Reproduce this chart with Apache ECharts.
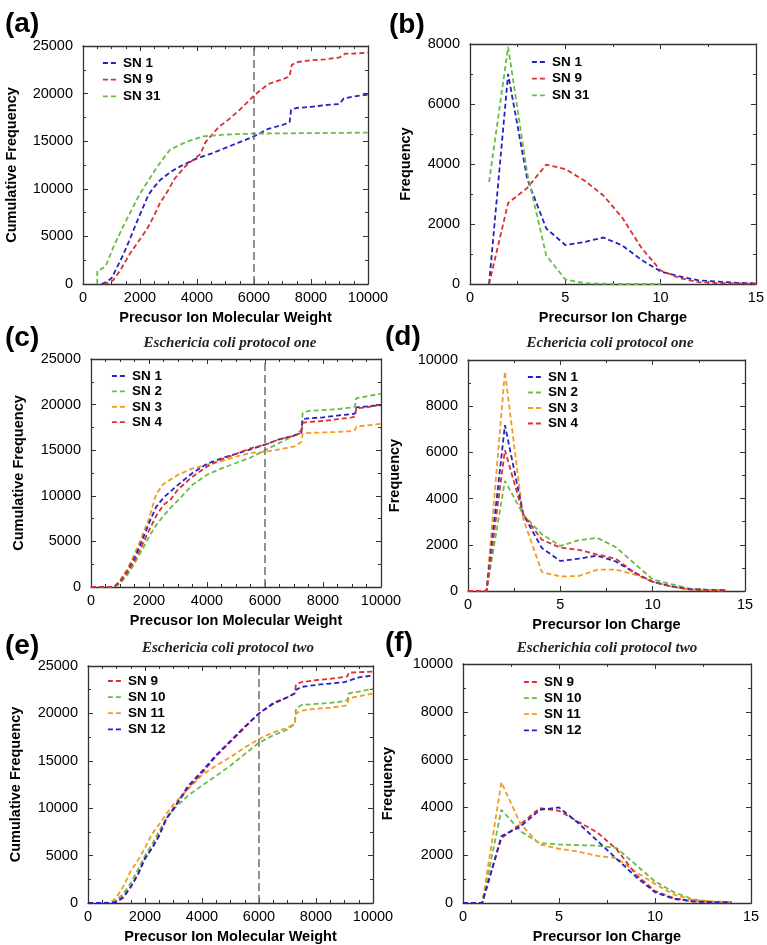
<!DOCTYPE html>
<html><head><meta charset="utf-8">
<script src="https://cdn.jsdelivr.net/npm/echarts@6/dist/echarts.min.js"></script>
<style>html,body{margin:0;padding:0;background:#fff}#c{width:767px;height:945px}</style>
</head><body><div id="c"></div>
<script>
// ---------------- data ----------------
const mwTicks = [0, 2000, 4000, 6000, 8000, 10000];
const cumTicks = [0, 5000, 10000, 15000, 20000, 25000];
const chargeTicks = [0, 5, 10, 15];
const freqTicksB = [0, 2000, 4000, 6000, 8000];
const freqTicksDF = [0, 2000, 4000, 6000, 8000, 10000];
const cutoffMW = 6000;

// (a)
const aSN1x = [650, 800, 1000, 1200, 1400, 1600, 1900, 2100, 2300, 2500, 2700, 3000, 3200, 3500, 4000, 4500, 5000, 5500, 6000, 6500, 7000, 7250, 7300, 7500, 8000, 8500, 9000, 9150, 9500, 10000];
const aSN1y = [0, 200, 600, 1800, 3000, 4400, 6600, 8000, 9400, 10200, 10900, 11600, 12000, 12500, 13200, 13700, 14300, 14900, 15500, 16300, 16700, 17000, 18300, 18500, 18600, 18800, 18900, 19500, 19700, 19900];
const aSN9x = [720, 900, 1060, 1300, 1650, 2000, 2250, 2500, 2700, 3000, 3200, 3600, 4100, 4200, 4300, 4500, 4800, 5000, 5500, 6000, 6500, 7000, 7250, 7320, 7500, 8000, 8500, 9000, 9200, 9500, 10000];
const aSN9y = [0, 150, 400, 1400, 3200, 4700, 5800, 7200, 8500, 9900, 11000, 12400, 13600, 14200, 14900, 15600, 16600, 17000, 18300, 19800, 21000, 21500, 21800, 23000, 23300, 23500, 23600, 23800, 24200, 24200, 24300];
const aSN31x = [500, 500, 600, 800, 1070, 1400, 2000, 2600, 3050, 3600, 4200, 5000, 6000, 8000, 10000];
const aSN31y = [0, 1400, 1500, 1900, 3900, 6000, 9500, 12300, 14100, 14900, 15500, 15700, 15800, 15850, 15900];

// (b)
const bCharge = [1, 2, 3, 4, 5, 6, 7, 8, 9, 10, 11, 12, 13, 14, 15];
const bSN1 = [0, 7000, 3500, 1850, 1300, 1400, 1550, 1280, 800, 420, 250, 120, 80, 40, 20];
const bSN9 = [0, 2700, 3200, 3980, 3830, 3450, 2950, 2200, 1200, 450, 200, 60, 30, 20, 10];
const bSN31 = [3400, 7900, 3700, 950, 150, 30, 10, 0, 0, 0];

// (c)
const cMW = [0, 800, 1000, 1250, 1500, 1750, 2000, 2250, 2500, 2750, 3000, 3500, 4000, 4500, 5000, 5500, 6000, 6500, 7000, 7250, 7300, 7500, 8000, 8500, 9000, 9100, 9150, 9500, 10000];
const cSN1 = [0, 0, 600, 1700, 3200, 5000, 7000, 8800, 9800, 10500, 11200, 12500, 13500, 14100, 14600, 15100, 15600, 16200, 16600, 16900, 18400, 18500, 18600, 18800, 18950, 19000, 19700, 19800, 19950];
const cSN2 = [0, 0, 400, 1300, 2600, 4000, 5500, 6800, 7800, 8700, 9500, 11200, 12300, 13000, 13600, 14200, 15000, 15800, 16600, 17200, 19100, 19300, 19400, 19500, 19700, 19800, 20700, 20900, 21200];
const cSN3 = [0, 0, 700, 2000, 3600, 5500, 7500, 10200, 11300, 11800, 12300, 13000, 13400, 13800, 14300, 14700, 14800, 15100, 15400, 15900, 16800, 16900, 16950, 17000, 17100, 17200, 17600, 17700, 17900];
const cSN4 = [0, 0, 500, 1600, 2900, 4500, 6200, 7800, 9000, 9600, 10700, 12100, 13200, 14000, 14600, 15200, 15600, 16200, 16600, 16900, 18000, 18100, 18200, 18400, 18600, 18700, 19600, 19700, 20000];

// (d)
const dCharge = [0, 1, 2, 3, 4, 5, 6, 7, 8, 9, 10, 11, 12, 13, 14];
const dSN1 = [0, 0, 7180, 3300, 1860, 1300, 1400, 1530, 1280, 800, 400, 200, 80, 50, 30];
const dSN2 = [0, 0, 4770, 3300, 2460, 1950, 2200, 2300, 1900, 1200, 500, 300, 100, 50, 30];
const dSN3 = [0, 0, 9500, 3100, 820, 630, 650, 920, 930, 720, 400, 200, 60, 30, 20];
const dSN4 = [0, 0, 6100, 3300, 2220, 1880, 1780, 1580, 1400, 800, 400, 200, 60, 40, 30];

// (e)
const eMW = [0, 800, 1000, 1250, 1500, 1750, 2000, 2250, 2500, 2750, 3000, 3250, 3500, 4000, 4500, 5000, 5500, 6000, 6500, 7000, 7250, 7300, 7500, 8000, 8500, 9000, 9100, 9150, 9500, 10000];
const eSN9 = [0, 0, 150, 700, 1700, 3000, 4700, 5800, 7200, 8900, 10000, 11000, 12100, 13700, 15500, 17000, 18500, 20000, 21000, 21700, 22100, 23100, 23300, 23500, 23650, 23850, 23900, 24300, 24350, 24400];
const eSN10 = [0, 0, 300, 1000, 2100, 3500, 5000, 6200, 7600, 8900, 9900, 10600, 11300, 12400, 13400, 14500, 15700, 16900, 17700, 18300, 18900, 20500, 20900, 21000, 21100, 21300, 21400, 22100, 22300, 22600];
const eSN11 = [0, 50, 600, 1800, 3400, 4500, 5800, 7300, 8300, 9400, 10400, 11200, 12000, 13500, 14500, 15400, 16400, 17300, 18000, 18500, 18900, 20000, 20300, 20500, 20600, 20800, 20900, 21600, 21800, 22100];
const eSN12 = [0, 0, 100, 600, 1700, 3000, 4700, 5800, 7100, 8900, 9900, 11100, 12300, 13900, 15600, 17100, 18600, 20000, 21100, 21700, 22100, 22500, 22800, 23000, 23150, 23300, 23400, 23600, 23800, 24000];

// (f)
const fCharge = [0, 1, 2, 3, 4, 5, 6, 7, 8, 9, 10, 11, 12, 13, 14];
const fSN9 = [0, 0, 2720, 3300, 3970, 3860, 3400, 2950, 2250, 1200, 500, 200, 60, 30, 20];
const fSN10 = [0, 0, 3900, 3000, 2500, 2450, 2420, 2400, 2300, 1600, 900, 450, 150, 60, 40];
const fSN11 = [0, 0, 5050, 3300, 2450, 2270, 2150, 1970, 1880, 1300, 800, 350, 120, 60, 50];
const fSN12 = [0, 0, 2800, 3200, 3900, 4000, 3350, 2600, 1850, 1100, 450, 170, 70, 30, 20];

// ---------------- style ----------------
const FONT = '"Liberation Sans", Arial, Helvetica, sans-serif';
const SERIF = '"Liberation Serif", "Times New Roman", serif';
const BLUE = '#2323c4', RED = '#d93030', GREEN = '#67bd48', ORANGE = '#f39a24';
const AX = '#333';

const grids = [
  {left: 83, top: 46, width: 285, height: 238},
  {left: 470, top: 44, width: 287, height: 240},
  {left: 91, top: 359, width: 290, height: 228},
  {left: 468, top: 360, width: 277, height: 231},
  {left: 88, top: 666, width: 285, height: 237},
  {left: 463, top: 664, width: 288, height: 240}
];

function zip(xs, ys) { return ys.map((y, i) => [xs[i], y]); }

const xAxes = [], yAxes = [];
function addAxes(gi, xt, xMinor, yt, yMinor, xName, yName, yNameGap) {
  const common = {
    gridIndex: gi, type: 'value',
    axisLine: {show: true, onZero: false, lineStyle: {color: AX, width: 1.3}},
    splitLine: {show: false},
    axisTick: {show: true, inside: true, length: 5, lineStyle: {color: AX, width: 1}},
    minorTick: {show: true, length: 3, lineStyle: {color: AX, width: 1}},
    minorSplitLine: {show: false}
  };
  const xr = {min: xt[0], max: xt[xt.length - 1], interval: xt[1] - xt[0]};
  const yr = {min: yt[0], max: yt[yt.length - 1], interval: yt[1] - yt[0]};
  xAxes.push(Object.assign({}, common, xr, {
    position: 'bottom',
    minorTick: Object.assign({}, common.minorTick, {splitNumber: xMinor}),
    axisLabel: {show: true, margin: 6, color: '#000', fontFamily: FONT, fontSize: 14.5, formatter: v => String(v), hideOverlap: false},
    name: xName, nameLocation: 'middle', nameGap: 26,
    nameTextStyle: {color: '#000', fontFamily: FONT, fontSize: 14.5, fontWeight: 'bold', lineHeight: 15}
  }));
  xAxes.push(Object.assign({}, common, xr, {
    position: 'top',
    minorTick: Object.assign({}, common.minorTick, {splitNumber: xMinor}),
    axisLabel: {show: false}
  }));
  yAxes.push(Object.assign({}, common, yr, {
    position: 'left',
    minorTick: Object.assign({}, common.minorTick, {splitNumber: yMinor}),
    axisLabel: {show: true, margin: 10, color: '#000', fontFamily: FONT, fontSize: 14.5, formatter: v => String(v)},
    name: yName, nameLocation: 'middle', nameRotate: 90, nameGap: yNameGap,
    nameTextStyle: {color: '#000', fontFamily: FONT, fontSize: 14.5, fontWeight: 'bold', lineHeight: 15}
  }));
  yAxes.push(Object.assign({}, common, yr, {
    position: 'right',
    minorTick: Object.assign({}, common.minorTick, {splitNumber: yMinor}),
    axisLabel: {show: false}
  }));
}
const MWNAME = 'Precusor Ion Molecular Weight';
const CHNAME = 'Precursor Ion Charge';
addAxes(0, mwTicks, 4, cumTicks, 2, MWNAME, 'Cumulative Frequency', 64);
addAxes(1, chargeTicks, 2, freqTicksB, 2, CHNAME, 'Frequency', 57);
addAxes(2, mwTicks, 4, cumTicks, 2, MWNAME, 'Cumulative Frequency', 65);
addAxes(3, chargeTicks, 2, freqTicksDF, 2, CHNAME, 'Frequency', 66);
addAxes(4, mwTicks, 4, cumTicks, 2, MWNAME, 'Cumulative Frequency', 65);
addAxes(5, chargeTicks, 2, freqTicksDF, 2, CHNAME, 'Frequency', 68);

const series = [];
function line(gi, name, color, data, withCut) {
  const s = {
    type: 'line', name, xAxisIndex: 2 * gi, yAxisIndex: 2 * gi,
    data, symbol: 'none', showSymbol: false, smooth: false,
    lineStyle: {color, width: 1.8, type: [5, 3]}, itemStyle: {color},
    emphasis: {disabled: true}, animation: false
  };
  if (withCut) {
    s.markLine = {
      silent: true, symbol: 'none', label: {show: false}, animation: false,
      lineStyle: {color: '#6e6e6e', width: 1.5, type: [8, 4]},
      data: [{xAxis: cutoffMW}]
    };
  }
  series.push(s);
}
line(0, 'SN 1', BLUE, zip(aSN1x, aSN1y), true);
line(0, 'SN 9', RED, zip(aSN9x, aSN9y));
line(0, 'SN 31', GREEN, zip(aSN31x, aSN31y));
line(1, 'SN 1', BLUE, zip(bCharge, bSN1));
line(1, 'SN 9', RED, zip(bCharge, bSN9));
line(1, 'SN 31', GREEN, zip(bCharge, bSN31));
line(2, 'SN 2', GREEN, zip(cMW, cSN2), true);
line(2, 'SN 3', ORANGE, zip(cMW, cSN3));
line(2, 'SN 1', BLUE, zip(cMW, cSN1));
line(2, 'SN 4', RED, zip(cMW, cSN4));
line(3, 'SN 2', GREEN, zip(dCharge, dSN2));
line(3, 'SN 3', ORANGE, zip(dCharge, dSN3));
line(3, 'SN 1', BLUE, zip(dCharge, dSN1));
line(3, 'SN 4', RED, zip(dCharge, dSN4));
line(4, 'SN 10', GREEN, zip(eMW, eSN10), true);
line(4, 'SN 11', ORANGE, zip(eMW, eSN11));
line(4, 'SN 9', RED, zip(eMW, eSN9));
line(4, 'SN 12', BLUE, zip(eMW, eSN12));
line(5, 'SN 10', GREEN, zip(fCharge, fSN10));
line(5, 'SN 11', ORANGE, zip(fCharge, fSN11));
line(5, 'SN 9', RED, zip(fCharge, fSN9));
line(5, 'SN 12', BLUE, zip(fCharge, fSN12));

function legend(left, top, gap, data) {
  return {
    orient: 'vertical', left, top, itemGap: gap, itemWidth: 15, itemHeight: 10,
    data, selectedMode: false, padding: 0,
    itemStyle: {opacity: 0},
    lineStyle: {width: 1.8, type: [5, 3]},
    textStyle: {color: '#000', fontFamily: FONT, fontSize: 13.5, fontWeight: 'bold', lineHeight: 14}
  };
}
const legends = [
  legend(102, 56, 2.7, ['SN 1', 'SN 9', 'SN 31']),
  legend(531, 55, 2.7, ['SN 1', 'SN 9', 'SN 31']),
  legend(111, 369, 1.4, ['SN 1', 'SN 2', 'SN 3', 'SN 4']),
  legend(527, 370, 1.5, ['SN 1', 'SN 2', 'SN 3', 'SN 4']),
  legend(107, 674, 2.1, ['SN 9', 'SN 10', 'SN 11', 'SN 12']),
  legend(523, 675, 2.1, ['SN 9', 'SN 10', 'SN 11', 'SN 12'])
];

const panelLabels = [
  {t: '(a)', x: 5, y: 22.5}, {t: '(b)', x: 389, y: 23},
  {t: '(c)', x: 5, y: 336}, {t: '(d)', x: 385, y: 335},
  {t: '(e)', x: 5, y: 644}, {t: '(f)', x: 385, y: 641}
];
const subtitles = [
  {t: 'Eschericia coli protocol one', x: 230, y: 343},
  {t: 'Echericia coli protocol one', x: 610, y: 343},
  {t: 'Eschericia coli protocol two', x: 228, y: 648},
  {t: 'Escherichia coli protocol two', x: 607, y: 648}
];
const graphics = [];
panelLabels.forEach(p => graphics.push({
  type: 'text', x: p.x, y: p.y + 2, silent: true,
  style: {text: p.t, fill: '#000', font: 'bold 28px ' + FONT, textAlign: 'left', textVerticalAlign: 'middle'}
}));
subtitles.forEach(p => graphics.push({
  type: 'text', x: p.x, y: p.y, silent: true,
  style: {text: p.t, fill: '#222', font: 'italic bold 15px ' + SERIF, textAlign: 'center', textVerticalAlign: 'middle'}
}));

const chart = echarts.init(document.getElementById('c'), null, {renderer: 'canvas'});
chart.setOption({
  animation: false,
  backgroundColor: '#fff',
  grid: grids.map(g => Object.assign({show: false, containLabel: false}, g)),
  xAxis: xAxes, yAxis: yAxes, legend: legends, series, graphic: graphics
});
</script></body></html>
